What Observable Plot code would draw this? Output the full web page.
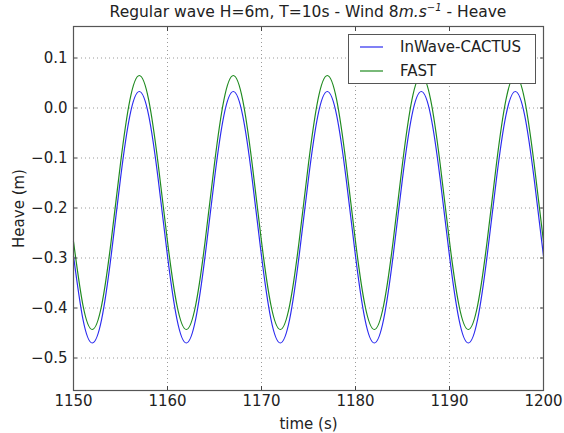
<!DOCTYPE html>
<html>
<head>
<meta charset="utf-8">
<script src="https://cdn.jsdelivr.net/npm/d3@7"></script>
<script src="https://cdn.jsdelivr.net/npm/@observablehq/plot@0.6"></script>
<style>
  body { margin: 0; background: #fff; font-family: "DejaVu Sans", sans-serif; color: #222; }
  #wrap { position: relative; width: 564px; height: 433px; }
  #title {
    height: 20px; box-sizing: border-box; padding: 4px 21px 0 73px;
    line-height: 17px; font-size: 15.5px; text-align: center; white-space: nowrap;
  }
  #title .m { font-style: italic; }
  #title sup { font-size: 10px; font-style: italic; vertical-align: 6px; line-height: 0; }
  #legend {
    position: absolute; left: 348px; top: 34px; width: 188px; height: 50px;
    box-sizing: border-box; border: 1px solid #555; background: #fff; font-size: 15px;
  }
  .item { position: absolute; left: 11px; height: 20px; display: flex; align-items: center; }
  .item svg { margin-right: 17px; }
</style>
</head>
<body>
<div id="wrap">
  <div id="title">Regular wave H=6m, T=10s - Wind 8<span class="m">m.s</span><sup>−1</sup> - Heave</div>
  <div id="chart"></div>
  <div id="legend"></div>
</div>
<script>
// Simulation time (s)
const time = [
  1150, 1151, 1152, 1153, 1154, 1155, 1156, 1157, 1158, 1159,
  1160, 1161, 1162, 1163, 1164, 1165, 1166, 1167, 1168, 1169,
  1170, 1171, 1172, 1173, 1174, 1175, 1176, 1177, 1178, 1179,
  1180, 1181, 1182, 1183, 1184, 1185, 1186, 1187, 1188, 1189,
  1190, 1191, 1192, 1193, 1194, 1195, 1196, 1197, 1198, 1199,
  1200
];

// Heave (m) computed by InWave-CACTUS
const heaveInWave = [
  -0.296, -0.422, -0.470, -0.422, -0.296, -0.141, -0.015, 0.033, -0.015, -0.141,
  -0.296, -0.422, -0.470, -0.422, -0.296, -0.141, -0.015, 0.033, -0.015, -0.141,
  -0.296, -0.422, -0.470, -0.422, -0.296, -0.141, -0.015, 0.033, -0.015, -0.141,
  -0.296, -0.422, -0.470, -0.422, -0.296, -0.141, -0.015, 0.033, -0.015, -0.141,
  -0.296, -0.422, -0.470, -0.422, -0.296, -0.141, -0.015, 0.033, -0.015, -0.141,
  -0.296
];

// Heave (m) computed by FAST
const heaveFast = [
  -0.267, -0.394, -0.443, -0.394, -0.267, -0.111, 0.016, 0.065, 0.016, -0.111,
  -0.267, -0.394, -0.443, -0.394, -0.267, -0.111, 0.016, 0.065, 0.016, -0.111,
  -0.267, -0.394, -0.443, -0.394, -0.267, -0.111, 0.016, 0.065, 0.016, -0.111,
  -0.267, -0.394, -0.443, -0.394, -0.267, -0.111, 0.016, 0.065, 0.016, -0.111,
  -0.267, -0.394, -0.443, -0.394, -0.267, -0.111, 0.016, 0.065, 0.016, -0.111,
  -0.267
];

const seriesNames = ["InWave-CACTUS", "FAST"];
const seriesColors = ["#2b2bef", "#1f8a1f"];

const xTicks = [1150, 1160, 1170, 1180, 1190, 1200];
const yTicks = [0.1, 0.0, -0.1, -0.2, -0.3, -0.4, -0.5];

const rows = [];
time.forEach((t, i) => {
  rows.push({t, v: heaveInWave[i], s: seriesNames[0]});
  rows.push({t, v: heaveFast[i], s: seriesNames[1]});
});

const gridStyle = {stroke: "#9a9a9a", strokeOpacity: 1, strokeDasharray: "1,3", strokeWidth: 1};
const tickStyle = {stroke: "#444"};

const chart = Plot.plot({
  width: 564,
  height: 413,
  marginTop: 6,
  marginRight: 21,
  marginBottom: 43,
  marginLeft: 73,
  style: {fontFamily: "DejaVu Sans", fontSize: "15px", color: "#222", background: "#fff"},
  x: {domain: [1150, 1200]},
  y: {domain: [-0.565, 0.163]},
  color: {domain: seriesNames, range: seriesColors},
  marks: [
    Plot.gridX(xTicks, gridStyle),
    Plot.gridY(yTicks, gridStyle),
    Plot.line(rows, {x: "t", y: "v", z: "s", stroke: "s", strokeWidth: 1.2, curve: "natural"}),
    // tick labels and axis titles
    Plot.axisX(xTicks, {anchor: "bottom", tickSize: 4, dy: -4, tickPadding: 5, tickFormat: d3.format("d"),
      ...tickStyle, label: "time (s)", labelAnchor: "center", labelArrow: "none", labelOffset: 38}),
    Plot.axisY(yTicks, {anchor: "left", tickSize: 4, dx: 4, tickPadding: 6, tickFormat: d3.format(".1f"),
      ...tickStyle, label: "Heave (m)", labelAnchor: "center", labelArrow: "none", labelOffset: 60}),
    // inward ticks on the opposite sides
    Plot.axisX(xTicks, {anchor: "top", tickSize: 4, dy: 4, tickFormat: () => "", label: null, ...tickStyle}),
    Plot.axisY(yTicks, {anchor: "right", tickSize: 4, dx: -4, tickFormat: () => "", label: null, ...tickStyle}),
    Plot.frame({stroke: "#555", strokeWidth: 1.2})
  ]
});
document.getElementById("chart").appendChild(chart);

// legend box
const legend = document.getElementById("legend");
seriesNames.forEach((name, i) => {
  const item = document.createElement("div");
  item.className = "item";
  item.style.top = (2 + i * 24) + "px";
  const sw = d3.create("svg").attr("width", 23).attr("height", 4);
  sw.append("line").attr("x1", 0).attr("x2", 23).attr("y1", 2).attr("y2", 2)
    .attr("stroke", seriesColors[i]).attr("stroke-width", 1.2);
  const label = document.createElement("span");
  label.textContent = name;
  item.appendChild(sw.node());
  item.appendChild(label);
  legend.appendChild(item);
});
</script>
</body>
</html>
